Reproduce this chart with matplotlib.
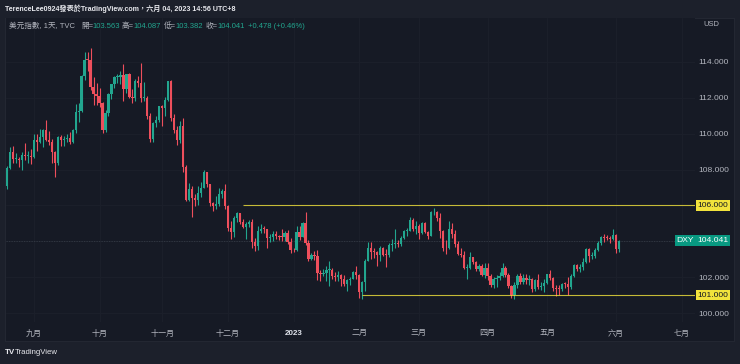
import numpy as np
import pandas as pd
import matplotlib
matplotlib.use("Agg")
import matplotlib.pyplot as plt
from matplotlib.patches import Rectangle
from matplotlib.transforms import blended_transform_factory

plt.rcParams['font.family'] = ['Liberation Sans', 'Noto Sans CJK TC', 'DejaVu Sans']

# ---------------- data (TVC:DXY daily, 2022-08-19 .. 2023-06-02) ----------------
first_day = '2022-08-19'
last_day = '2023-06-02'

opens = [
    107.10, 108.10, 108.97, 108.60, 108.61, 108.54, 108.82, 108.77, 108.78,
    108.70, 109.67, 109.54, 109.84, 110.19, 109.64, 109.56, 108.99, 108.36, 109.80,
    109.63, 109.70, 109.76, 109.54, 110.18, 111.23, 111.27, 113.19, 114.11, 114.10,
    112.63, 112.20,
    112.12, 111.69, 110.21, 111.18, 112.24, 112.76, 113.15, 113.16, 113.26, 112.47,
    113.31, 112.04, 111.99, 112.94, 112.84, 111.98, 112.01, 110.96, 109.71, 110.61,
    110.75,
    111.53, 111.45, 111.90, 112.93, 110.86, 110.21, 109.67, 110.43, 108.17, 106.30,
    106.94, 106.40, 106.30, 106.69, 106.97, 107.85, 107.17, 106.12, 105.98, 106.08,
    106.66, 106.82,
    105.95, 104.74, 104.52, 105.29, 105.56, 105.09, 104.78, 104.99, 105.07, 103.97,
    103.76, 104.57, 104.70, 104.68, 104.19, 104.22, 104.39, 104.31, 104.26, 104.22,
    104.45, 103.96,
    103.52, 103.49, 104.52, 104.24, 105.04, 103.89, 103.01, 103.23, 103.19, 102.22,
    102.20, 102.24, 102.38, 102.40, 102.05, 101.99, 102.14, 101.92, 101.63, 101.83,
    101.92, 102.27,
    102.10, 101.20, 101.75, 102.92, 103.62, 103.41, 103.39, 103.22, 103.62, 103.26,
    103.23, 103.81, 103.84, 103.87, 103.85, 104.19, 104.58, 104.60, 105.21, 104.68,
    104.87, 104.44, 105.01, 104.52, 104.29, 105.61, 105.65, 105.30, 104.58, 103.62,
    103.60, 104.66, 104.42, 103.86, 103.28, 103.23, 102.49, 102.53, 103.12, 102.86,
    102.43, 102.64, 102.13,
    102.51, 102.05, 101.56, 101.87, 101.93, 102.09, 102.52, 102.14, 101.48, 101.02,
    101.55, 102.08, 101.75, 101.97, 101.84, 101.87, 101.34, 101.86, 101.47, 101.49,
    101.66, 102.16, 101.98, 101.39, 101.36, 101.33, 101.63, 101.61, 101.46, 102.07,
    102.69, 102.43, 102.57, 102.84, 103.57, 103.16, 103.20, 103.51, 103.89, 104.26,
    104.21, 104.17, 104.11, 104.33, 103.563,
]
highs = [
    108.20, 109.27, 109.29, 108.92, 108.70, 108.98, 109.48, 109.04, 109.16,
    109.99, 110.00, 110.27, 110.27, 110.79, 110.16, 109.71, 109.02, 109.87, 109.94,
    109.89, 109.98, 110.07, 110.28, 111.63, 111.73, 113.26, 114.58, 114.58, 114.78,
    113.14, 112.81,
    112.55, 111.78, 111.34, 112.29, 112.76, 113.20, 113.35, 113.47, 113.88, 113.32,
    113.38, 112.47, 113.05, 113.24, 113.95, 112.88, 112.12, 111.13, 110.64, 111.01,
    111.53,
    111.61, 112.06, 112.95, 113.00, 111.07, 110.45, 110.71, 110.88, 108.26, 107.27,
    107.06, 106.63, 107.07, 107.29, 107.99, 107.89, 107.21, 106.19, 106.50, 106.99,
    106.89, 107.18,
    106.02, 105.12, 105.40, 105.66, 105.58, 105.25, 105.09, 105.18, 105.24, 104.16,
    104.86, 104.95, 104.88, 104.70, 104.38, 104.57, 104.55, 104.35, 104.69, 104.55,
    104.63, 104.21,
    103.65, 104.85, 104.84, 105.07, 105.63, 104.07, 103.37, 103.45, 103.49, 102.40,
    102.46, 102.63, 102.90, 102.53, 102.26, 102.37, 102.20, 102.13, 101.89, 102.03,
    102.35, 102.61,
    102.20, 101.80, 103.00, 103.96, 103.96, 103.60, 103.46, 103.73, 103.70, 103.56,
    103.90, 104.15, 104.67, 104.07, 104.30, 104.62, 104.75, 105.36, 105.32, 105.13,
    104.96, 105.05, 105.05, 104.60, 105.71, 105.88, 105.71, 105.55, 104.63, 104.06,
    105.11, 105.03, 104.62, 103.99, 103.64, 103.44, 102.76, 103.39, 103.15, 102.90,
    102.74, 102.71, 102.79,
    102.81, 102.17, 102.02, 102.11, 102.28, 102.80, 102.60, 102.22, 101.57, 101.75,
    102.20, 102.22, 102.18, 102.15, 102.10, 101.95, 101.92, 102.20, 101.74, 101.90,
    102.20, 102.39, 102.02, 101.55, 101.57, 101.70, 101.73, 101.99, 102.15, 102.76,
    102.71, 102.74, 103.06, 103.62, 103.63, 103.42, 103.63, 104.04, 104.31, 104.42,
    104.33, 104.32, 104.70, 104.40, 104.087,
]
lows = [
    106.90, 108.05, 108.36, 108.37, 108.13, 107.96, 108.53, 108.36, 108.33,
    108.66, 109.05, 109.50, 109.23, 109.59, 109.35, 108.36, 107.59, 108.26, 109.29,
    109.33, 109.52, 109.45, 109.50, 110.06, 110.63, 111.22, 113.00, 113.47, 112.43,
    111.61, 111.59,
    111.47, 110.05, 110.07, 111.00, 111.92, 112.52, 112.84, 112.78, 111.80, 112.28,
    111.97, 111.70, 111.82, 112.59, 111.79, 111.84, 110.82, 109.54, 109.52, 110.36,
    110.63,
    110.43, 110.96, 111.80, 110.70, 110.02, 109.36, 109.48, 107.84, 106.27, 106.25,
    105.34, 105.96, 106.02, 106.47, 106.96, 107.03, 105.97, 105.68, 105.82, 105.99,
    106.40, 105.82,
    104.56, 104.11, 104.25, 105.09, 104.96, 104.72, 104.10, 104.78, 103.62, 103.45,
    103.53, 104.46, 104.45, 103.61, 103.94, 104.00, 104.10, 104.09, 104.01, 104.01,
    103.84, 103.37,
    103.40, 103.47, 104.07, 104.23, 103.77, 102.91, 102.94, 102.98, 101.85, 101.77,
    102.07, 101.77, 101.51, 101.92, 101.76, 101.80, 101.50, 101.50, 101.24, 101.56,
    101.87, 101.91,
    100.82, 100.80, 101.24, 102.89, 102.99, 103.05, 102.65, 102.92, 103.17, 102.54,
    103.10, 103.45, 103.64, 103.66, 103.72, 104.10, 104.30, 104.55, 104.59, 104.40,
    104.15, 104.42, 104.47, 104.10, 104.27, 105.45, 105.11, 104.20, 103.44, 103.28,
    103.55, 104.21, 103.69, 103.25, 103.11, 102.45, 101.92, 102.46, 102.75, 102.35,
    102.33, 102.04, 101.93,
    101.82, 101.45, 101.41, 101.44, 101.86, 102.00, 102.00, 101.42, 100.86, 100.79,
    101.40, 101.63, 101.62, 101.64, 101.58, 101.20, 101.25, 101.35, 101.28, 101.19,
    101.60, 101.83, 101.23, 100.93, 101.03, 101.22, 101.40, 101.01, 101.35, 101.99,
    102.33, 102.26, 102.40, 102.79, 102.82, 102.99, 103.06, 103.48, 103.77, 103.97,
    104.05, 103.93, 104.07, 103.37, 103.382,
]
closes = [
    108.10, 108.97, 108.60, 108.61, 108.54, 108.82, 108.77, 108.78, 108.70,
    109.67, 109.54, 109.84, 110.19, 109.64, 109.56, 108.99, 108.36, 109.80, 109.63,
    109.70, 109.76, 109.54, 110.18, 111.23, 111.27, 113.19, 114.11, 114.10, 112.63,
    112.20, 112.12,
    111.69, 110.21, 111.18, 112.24, 112.76, 113.15, 113.16, 113.26, 112.47, 113.31,
    112.04, 111.99, 112.94, 112.84, 111.98, 112.01, 110.96, 109.71, 110.61, 110.75,
    111.53,
    111.45, 111.90, 112.93, 110.86, 110.21, 109.67, 110.43, 108.17, 106.30, 106.94,
    106.40, 106.30, 106.69, 106.97, 107.85, 107.17, 106.12, 105.98, 106.08, 106.66,
    106.82, 105.95,
    104.74, 104.52, 105.29, 105.56, 105.09, 104.78, 104.99, 105.07, 103.97, 103.76,
    104.57, 104.70, 104.68, 104.19, 104.22, 104.39, 104.31, 104.26, 104.22, 104.45,
    103.96, 103.52,
    103.49, 104.52, 104.24, 105.04, 103.89, 103.01, 103.23, 103.19, 102.22, 102.20,
    102.24, 102.38, 102.40, 102.05, 101.99, 102.14, 101.92, 101.63, 101.83, 101.92,
    102.27, 102.10,
    101.20, 101.75, 102.92, 103.62, 103.41, 103.39, 103.22, 103.62, 103.26, 103.23,
    103.81, 103.84, 103.87, 103.85, 104.19, 104.58, 104.60, 105.21, 104.68, 104.87,
    104.44, 105.01, 104.52, 104.29, 105.61, 105.65, 105.30, 104.58, 103.62, 103.60,
    104.66, 104.42, 103.86, 103.28, 103.23, 102.49, 102.53, 103.12, 102.86, 102.43,
    102.64, 102.13, 102.51,
    102.05, 101.56, 101.87, 101.93, 102.09, 102.52, 102.14, 101.48, 101.02, 101.55,
    102.08, 101.75, 101.97, 101.84, 101.87, 101.34, 101.86, 101.47, 101.49, 101.66,
    102.16, 101.98, 101.39, 101.36, 101.33, 101.63, 101.61, 101.46, 102.07, 102.69,
    102.43, 102.57, 102.84, 103.57, 103.16, 103.20, 103.51, 103.89, 104.26, 104.21,
    104.17, 104.11, 104.33, 103.56, 104.041,
]

month_starts = ['2022-09-01', '2022-10-01', '2022-11-01', '2022-12-01', '2023-01-01',
                '2023-02-01', '2023-03-01', '2023-04-01', '2023-05-01', '2023-06-01',
                '2023-07-01']
month_labels = ['九月', '十月', '十一月', '十二月', '2023', '二月', '三月', '四月',
                '五月', '六月', '七月']
price_ticks = [100, 102, 104, 106, 108, 110, 112, 114]
hidden_tick_labels = [104, 106]   # covered by the price / level badges

level_prices = [106.0, 101.0]
level_starts = ['2022-12-08', '2023-02-02']

last_price = 104.041
symbol = 'DXY'

# ---------------- styling ----------------
OUTER = '#1c202b'
PANEL = '#161a25'
GRID = '#1c202b'
UP = '#22a68f'
DOWN = '#ee4f5c'
TXT = '#b2b5be'
YEL = '#f2e33c'
LBLGREEN = '#089981'

W, H = 740, 364
fig = plt.figure(figsize=(W / 100, H / 100), dpi=100)
fig.patch.set_facecolor(OUTER)

def fx(px):
    return px / W

def fy(py):
    return 1 - py / H

fig.add_artist(Rectangle((fx(5), fy(341)), (734 - 5) / W, (341 - 18) / H,
                         transform=fig.transFigure, facecolor=PANEL,
                         edgecolor='#262a35', lw=0.6, zorder=0))

ax = fig.add_axes([fx(6), fy(322), (695 - 6) / W, (322 - 18) / H])
ax.set_facecolor(PANEL)
for s in ax.spines.values():
    s.set_visible(False)

o = np.array(opens); h = np.array(highs); l = np.array(lows); c = np.array(closes)
dates = pd.bdate_range(first_day, last_day)
n = len(dates)
x = np.arange(n)
axis_dates = pd.bdate_range(first_day, '2023-08-31')

px_per_bar = 2.985
x_left = -1 / px_per_bar
x_right = x_left + (695 - 6) / px_per_bar
ax.set_xlim(x_left, x_right)
ax.set_ylim(99.50, 116.45)

# grid
tick_pos = [axis_dates.searchsorted(pd.Timestamp(d)) for d in month_starts]
for t in tick_pos:
    ax.axvline(t, color=GRID, lw=0.6, zorder=0.5)
for p in price_ticks:
    ax.axhline(p, color=GRID, lw=0.6, zorder=0.5)

# candles
up = c >= o
cols = np.where(up, UP, DOWN)
ax.vlines(x, l, h, colors=cols, lw=0.8, zorder=2)
body_lo = np.minimum(o, c)
body_h = np.maximum(np.abs(c - o), 0.05)
ax.bar(x, body_h, bottom=body_lo, width=0.76, color=cols, edgecolor='none', zorder=3)

# last price line
ax.axhline(last_price, color='#333a45', lw=0.6, ls=(0, (1.5, 1.5)), zorder=1)

# horizontal rays
trans = blended_transform_factory(ax.transAxes, ax.transData)
for lv, st in zip(level_prices, level_starts):
    xs = dates.searchsorted(pd.Timestamp(st))
    ax.hlines(lv, xs, x_right, color=YEL, lw=0.8, zorder=4, alpha=0.8)
    ax.text(1.0035, lv, f'{lv:.3f}', transform=trans, ha='left', va='center',
            fontsize=6.1, color='#131722', clip_on=False,
            bbox=dict(boxstyle='square,pad=0.22', fc=YEL, ec='none'))

# last price label
ax.text(1.0035, last_price, f'{last_price:.3f}', transform=trans, ha='left', va='center',
        fontsize=6.1, color='white', clip_on=False,
        bbox=dict(boxstyle='square,pad=0.22', fc=LBLGREEN, ec='none'), zorder=6)
ax.text(0.9985, last_price, symbol, transform=trans, ha='right', va='center',
        fontsize=6.1, color='white', clip_on=False,
        bbox=dict(boxstyle='square,pad=0.22', fc=LBLGREEN, ec='none'), zorder=6)

# axes ticks
ax.yaxis.tick_right()
ax.set_yticks(price_ticks)
ax.set_yticklabels(['' if p in hidden_tick_labels else f'{p:.3f}' for p in price_ticks])
ax.tick_params(axis='y', length=0, pad=2.5, labelsize=6.1, labelcolor=TXT)
ax.set_xticks(tick_pos)
ax.set_xticklabels(month_labels)
ax.tick_params(axis='x', length=0, pad=5.5, labelsize=5.8, labelcolor=TXT)
for lab in ax.get_xticklabels():
    if lab.get_text() == '2023':
        lab.set_color('#e0e3eb')
        lab.set_fontweight('bold')

# header
fig.text(fx(5), fy(9), 'TerenceLee0924發表於TradingView.com，六月 04, 2023 14:56 UTC+8',
         fontsize=5.15, color='#e8e9ee', fontweight='bold', va='center', ha='left')
fig.text(fx(703), fy(25), 'USD', fontsize=5.4, color=TXT, va='center', ha='left')

legend_parts = [
    (9, '美元指數, 1天, TVC', TXT),
    (81, '開=', TXT), (92, '103.563', UP),
    (122, '高=', TXT), (133, '104.087', UP),
    (164, '低=', TXT), (175, '103.382', UP),
    (206, '收=', TXT), (217, '104.041', UP),
    (248, '+0.478 (+0.46%)', UP),
]
for px, s, col in legend_parts:
    fig.text(fx(px), fy(26), s, fontsize=5.5, color=col, va='center', ha='left')

# footer logo
fig.text(fx(5), fy(353), 'TV', fontsize=5.8, color='#e8e9ee', fontweight='heavy',
         va='center', ha='left')
fig.text(fx(15), fy(353), 'TradingView', fontsize=5.6, color='#e8e9ee',
         va='center', ha='left')

fig.savefig('out.png', dpi=100, facecolor=OUTER)
